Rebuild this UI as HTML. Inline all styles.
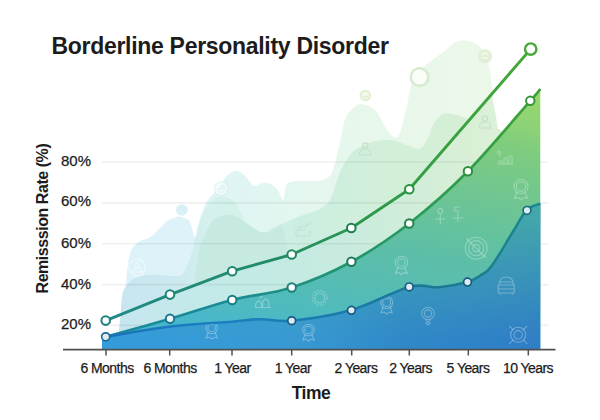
<!DOCTYPE html>
<html><head><meta charset="utf-8">
<style>
html,body{margin:0;padding:0;background:#fff;}
body{width:600px;height:420px;overflow:hidden;position:relative;font-family:"Liberation Sans",sans-serif;}
svg{position:absolute;left:0;top:0;}
</style></head>
<body>
<svg width="600" height="420" viewBox="0 0 600 420">
<defs>
  <linearGradient id="gBlue" x1="100" y1="0" x2="540" y2="0" gradientUnits="userSpaceOnUse">
    <stop offset="0" stop-color="#349cdc"/>
    <stop offset="0.45" stop-color="#3899d2"/>
    <stop offset="0.69" stop-color="#2f88c8"/>
    <stop offset="1" stop-color="#2f7ec6"/>
  </linearGradient>
  <linearGradient id="gBlueV" x1="0" y1="205" x2="0" y2="340" gradientUnits="userSpaceOnUse">
    <stop offset="0" stop-color="#45aaa8" stop-opacity="1"/>
    <stop offset="1" stop-color="#45aaa8" stop-opacity="0"/>
  </linearGradient>
  <linearGradient id="gMid" x1="530" y1="90" x2="471.7" y2="383.25" gradientUnits="userSpaceOnUse">
    <stop offset="0" stop-color="#9ad86c"/>
    <stop offset="0.122" stop-color="#8dd276"/>
    <stop offset="0.202" stop-color="#7ecc7e"/>
    <stop offset="0.397" stop-color="#6ec594"/>
    <stop offset="0.511" stop-color="#63c29e"/>
    <stop offset="0.61" stop-color="#5dbea8"/>
    <stop offset="0.68" stop-color="#5abdad"/>
    <stop offset="0.856" stop-color="#50bbbc"/>
    <stop offset="0.95" stop-color="#4ab8c8"/>
    <stop offset="1" stop-color="#46b6cc"/>
  </linearGradient>
  <linearGradient id="gTop" x1="119" y1="0" x2="499" y2="0" gradientUnits="userSpaceOnUse">
    <stop offset="0" stop-color="#c6e6ef"/>
    <stop offset="0.29" stop-color="#c2eae6"/>
    <stop offset="0.49" stop-color="#c5eae2"/>
    <stop offset="0.75" stop-color="#cfedd9"/>
    <stop offset="0.91" stop-color="#d8efd5"/>
    <stop offset="1" stop-color="#dcf1d8"/>
  </linearGradient>
  <linearGradient id="gBg1" x1="120" y1="0" x2="500" y2="0" gradientUnits="userSpaceOnUse">
    <stop offset="0" stop-color="#dcf2f9"/>
    <stop offset="0.2" stop-color="#ddf3f8"/>
    <stop offset="0.37" stop-color="#e1f6f1"/>
    <stop offset="0.63" stop-color="#e7f7ec"/>
    <stop offset="1" stop-color="#ecf8e9"/>
  </linearGradient>
  <linearGradient id="gBg2" x1="120" y1="0" x2="510" y2="0" gradientUnits="userSpaceOnUse">
    <stop offset="0" stop-color="#c8e6ef"/>
    <stop offset="0.15" stop-color="#cbe9ef"/>
    <stop offset="0.23" stop-color="#d4f1ec"/>
    <stop offset="0.3" stop-color="#d3f0e9"/>
    <stop offset="0.46" stop-color="#cbeee2"/>
    <stop offset="0.67" stop-color="#d2efd9"/>
    <stop offset="1" stop-color="#d8efd5"/>
  </linearGradient>

  <linearGradient id="sTop" x1="105" y1="0" x2="531" y2="0" gradientUnits="userSpaceOnUse">
    <stop offset="0" stop-color="#1f8a8a"/>
    <stop offset="0.37" stop-color="#238a68"/>
    <stop offset="0.65" stop-color="#2e9a48"/>
    <stop offset="1" stop-color="#46a836"/>
  </linearGradient>
  <linearGradient id="sMid" x1="105" y1="0" x2="541" y2="0" gradientUnits="userSpaceOnUse">
    <stop offset="0" stop-color="#1a889a"/>
    <stop offset="0.25" stop-color="#1a8a98"/>
    <stop offset="0.62" stop-color="#249868"/>
    <stop offset="0.9" stop-color="#36a040"/>
    <stop offset="1" stop-color="#3aa23a"/>
  </linearGradient>
  <linearGradient id="sBot" x1="105" y1="0" x2="541" y2="0" gradientUnits="userSpaceOnUse">
    <stop offset="0" stop-color="#1a72b8"/>
    <stop offset="0.25" stop-color="#1a80c0"/>
    <stop offset="0.6" stop-color="#1a7aa8"/>
    <stop offset="0.76" stop-color="#1a7890"/>
    <stop offset="1" stop-color="#1a8a90"/>
  </linearGradient>
</defs>

<!-- background blobs -->
<path fill="url(#gBg1)" d="M118,349 L119.0,330.0 C119.4,325.9 120.3,313.2 121.4,305.7 C122.5,298.2 124.6,291.7 125.7,285.0 C126.8,278.3 126.9,271.4 127.8,265.7 C128.7,260.0 129.2,254.6 131.0,250.7 C132.8,246.8 135.5,244.2 138.6,242.0 C141.7,239.8 146.1,239.8 149.3,237.8 C152.5,235.9 155.0,233.0 157.8,230.3 C160.7,227.6 163.9,223.8 166.4,221.8 C168.9,219.9 170.7,219.5 172.8,218.6 C174.9,217.7 176.7,216.2 179.2,216.4 C181.7,216.6 185.8,218.2 187.8,219.6 C189.8,221.0 189.8,222.1 191.0,225.0 C192.2,227.9 193.9,237.5 195.2,237.0 C196.5,236.5 197.2,227.7 199.0,222.0 C200.8,216.3 203.5,207.8 206.0,203.0 C208.5,198.2 211.7,195.8 214.0,193.0 C216.3,190.2 217.7,189.0 220.0,186.0 C222.3,183.0 224.8,177.5 227.6,175.0 C230.4,172.5 234.0,170.8 237.0,171.0 C240.0,171.2 242.9,173.8 245.4,176.0 C247.9,178.2 250.2,182.8 252.0,184.5 C253.8,186.2 254.1,186.3 256.0,186.0 C257.9,185.7 260.9,183.2 263.3,182.9 C265.7,182.6 268.1,182.8 270.5,184.0 C272.9,185.2 275.8,187.8 277.6,190.0 C279.4,192.2 280.2,195.4 281.2,197.0 C282.2,198.6 282.8,201.3 283.6,199.5 C284.4,197.7 284.6,189.0 286.0,186.0 C287.4,183.0 288.7,182.5 291.9,181.7 C295.1,180.9 300.2,181.2 305.0,181.0 C309.8,180.8 316.3,181.4 320.5,180.5 C324.7,179.6 327.6,178.5 330.0,175.7 C332.4,172.9 333.4,168.2 334.8,163.8 C336.2,159.4 337.1,154.6 338.3,149.5 C339.5,144.4 340.7,138.4 342.0,133.0 C343.3,127.6 343.8,121.4 346.0,117.0 C348.2,112.6 352.1,108.5 355.0,106.4 C357.9,104.3 360.0,103.7 363.4,104.4 C366.8,105.1 371.4,106.1 375.5,110.5 C379.6,114.9 384.0,126.3 387.7,130.7 C391.4,135.1 394.8,140.2 397.8,136.8 C400.8,133.4 403.5,119.6 405.9,110.5 C408.3,101.4 409.1,89.2 412.0,82.0 C414.9,74.8 418.2,72.2 423.6,67.0 C429.0,61.8 439.3,55.1 444.5,51.0 C449.7,46.9 451.5,44.2 455.0,42.5 C458.5,40.8 461.5,40.0 465.4,40.5 C469.3,41.0 474.9,42.8 478.5,45.7 C482.1,48.6 484.8,51.9 487.0,58.0 C489.2,64.1 490.4,73.7 491.6,82.4 C492.8,91.1 493.1,100.4 494.0,110.0 C494.9,119.6 496.5,135.0 497.0,140.0 L497,349 Z"/>
<circle cx="181.8" cy="210" r="5.8" fill="#d9f0f6"/>
<path fill="url(#gBg2)" d="M120,349 L121.0,306.0 C121.3,303.7 121.8,295.7 123.0,292.0 C124.2,288.3 126.2,286.2 128.0,284.0 C129.8,281.8 130.6,280.1 134.0,278.6 C137.4,277.1 143.4,275.5 148.6,275.0 C153.8,274.5 159.8,275.4 165.0,275.5 C170.2,275.6 176.5,276.9 180.0,275.7 C183.5,274.4 184.2,271.4 186.0,268.0 C187.8,264.6 189.3,260.3 191.0,255.0 C192.7,249.7 193.9,243.0 196.0,236.0 C198.1,229.0 200.1,219.3 203.3,213.0 C206.5,206.7 211.7,201.0 215.0,198.3 C218.3,195.6 220.6,196.6 223.3,196.7 C226.0,196.8 228.8,197.6 231.0,199.0 C233.2,200.4 234.6,201.8 236.7,205.0 C238.8,208.2 241.1,214.4 243.3,218.3 C245.5,222.2 246.7,225.9 250.0,228.3 C253.3,230.7 259.4,232.6 263.3,232.5 C267.2,232.4 269.6,229.2 273.3,227.5 C277.0,225.8 281.0,224.3 285.7,222.4 C290.4,220.5 296.2,217.8 301.4,215.8 C306.6,213.8 312.6,212.7 317.0,210.6 C321.4,208.5 324.9,205.9 327.6,203.0 C330.3,200.1 331.4,196.8 333.0,193.0 C334.6,189.2 335.4,184.5 337.0,180.0 C338.6,175.5 340.7,170.2 342.9,166.0 C345.1,161.8 347.6,157.9 350.0,155.0 C352.4,152.1 352.9,150.9 357.0,148.6 C361.1,146.3 368.6,142.8 374.3,141.4 C380.0,140.0 385.7,139.3 391.4,140.0 C397.1,140.7 403.8,144.3 408.6,145.7 C413.4,147.1 416.8,149.9 420.0,148.6 C423.2,147.3 425.7,142.3 428.0,138.0 C430.3,133.7 431.5,127.0 434.0,123.0 C436.5,119.0 439.3,115.3 443.0,114.0 C446.7,112.7 451.8,114.2 456.0,115.0 C460.2,115.8 463.8,118.0 468.0,118.6 C472.2,119.2 476.5,117.4 481.0,118.6 C485.5,119.8 491.2,123.4 495.0,126.0 C498.8,128.6 501.2,131.3 504.0,134.0 C506.8,136.7 510.7,140.7 512.0,142.0 L512,349 Z"/>
<path fill="#c6eae2" d="M190,349 L192.0,300.0 C193.2,291.7 196.8,260.8 199.0,250.0 C201.2,239.2 202.6,240.0 205.0,235.0 C207.4,230.0 210.0,223.3 213.3,220.0 C216.6,216.7 221.1,215.6 225.0,215.0 C228.9,214.4 233.1,215.3 236.7,216.7 C240.3,218.1 242.8,220.8 246.7,223.3 C250.6,225.8 256.1,230.3 260.0,231.7 C263.9,233.1 266.3,233.0 270.0,231.7 C273.7,230.4 280.0,225.3 282.0,224.0 L290,260 L290,349 Z"/>
<path fill="url(#gTop)" d="M119,349 L119,330 L121,314.4 L170,294.6 L232.2,271.2 L291.7,254.5 L351.3,228 L409.3,189.3 L490.5,95 C494,102 497,120 499,140 L499,349 Z"/>
<!-- bg icons -->
<g fill="none">
  <circle cx="419.6" cy="77.1" r="8.8" stroke="#d6ebcf" stroke-width="2.6"/>
  <circle cx="419.6" cy="77.1" r="7.2" fill="#fbfdf9"/>
  <circle cx="485" cy="56.2" r="7" fill="#e2efd6"/>
  <path d="M481.5,55 q3.5,-4 7,0 M482,58 h6" stroke="#f4f9ef" stroke-width="1.4"/>
  <circle cx="365.3" cy="95.5" r="5.8" fill="#e3efd2"/>
  <circle cx="365.3" cy="95.5" r="3.6" fill="#f2f8ea"/>
  <path d="M362.5,96 q2.8,3 5.6,0" stroke="#d8e8c6" stroke-width="1"/>
  <circle cx="221" cy="188.6" r="6.6" stroke="#d2ece4" stroke-width="0.8"/>
  <circle cx="221" cy="188.6" r="5.4" stroke="#f3fbf8" stroke-width="1.8"/>
  <path d="M218,189.5 q3,3 6,0 M221,184.8 v3" stroke="#f3fbf8" stroke-width="1.4"/>
  <circle cx="137" cy="267.5" r="8.3" stroke="#eef8fb" stroke-width="1.4"/>
  <circle cx="137" cy="265" r="2.3" stroke="#eef8fb" stroke-width="1.1"/>
  <path d="M132.5,272 q0,-4 4.5,-4 q4.5,0 4.5,4 z" stroke="#eef8fb" stroke-width="1.1"/>
  <g stroke="#c4e0cc" stroke-width="1.1">
    <circle cx="365.3" cy="145.5" r="2.6"/>
    <path d="M359.5,155 q0,-6 5.8,-6 q5.8,0 5.8,6 z"/>
    <circle cx="485" cy="118.5" r="2.6"/>
    <path d="M479.2,128 q0,-6 5.8,-6 q5.8,0 5.8,6 z"/>
  </g>
  <g stroke="#bfe2d6" stroke-width="1.1">
    <path d="M296,236 h14 v-6 M296,236 v-6 h10 M299,230 v-3 h6 l3,-3 M308,225 l3,-2"/>
  </g>
</g>

<!-- gridlines -->
<g stroke="#000" stroke-opacity="0.06" stroke-width="1.6">
  <line x1="102" y1="162" x2="548" y2="162"/>
  <line x1="102" y1="202.9" x2="548" y2="202.9"/>
  <line x1="102" y1="243.7" x2="548" y2="243.7"/>
  <line x1="102" y1="284.6" x2="548" y2="284.6"/>
  <line x1="102" y1="325.4" x2="548" y2="325.4"/>
</g>

<!-- middle area -->
<path fill="url(#gMid)" d="M102,339 L105.7,336.8 C116.4,333.8 148.9,324.9 170.0,318.8 C191.1,312.7 211.9,305.2 232.2,300.0 C252.5,294.8 271.8,293.9 291.7,287.5 C311.6,281.1 331.8,272.5 351.4,261.8 C371.0,251.1 389.8,238.6 409.2,223.5 C428.6,208.4 447.7,191.8 467.9,171.3 C488.1,150.9 518.2,114.5 530.3,100.8 C542.4,87.1 538.6,91.0 540.3,89.0 L540.3,349.5 L102,349.5 Z"/>

<!-- bottom area -->
<path fill="url(#gBlue)" d="M102,339 L105.7,336.8 C116.2,335.1 147.9,329.2 169.0,326.7 C190.1,324.2 216.8,322.9 232.0,321.7 C247.2,320.4 250.1,319.4 260.0,319.2 C269.9,319.0 276.4,322.2 291.7,320.7 C306.9,319.2 331.9,315.6 351.5,310.0 C371.1,304.4 394.6,290.7 409.2,286.9 C423.8,283.1 429.3,288.0 439.0,287.2 C448.7,286.4 460.6,284.1 467.5,282.1 C474.4,280.1 476.5,277.9 480.5,275.3 C484.5,272.7 486.0,273.6 491.4,266.4 C496.8,259.2 506.9,241.4 512.8,232.0 C518.7,222.6 522.2,214.7 526.8,210.0 C531.4,205.3 538.0,204.7 540.3,203.6 L540.3,349.5 L102,349.5 Z"/>
<path fill="url(#gBlueV)" d="M102,339 L105.7,336.8 C116.2,335.1 147.9,329.2 169.0,326.7 C190.1,324.2 216.8,322.9 232.0,321.7 C247.2,320.4 250.1,319.4 260.0,319.2 C269.9,319.0 276.4,322.2 291.7,320.7 C306.9,319.2 331.9,315.6 351.5,310.0 C371.1,304.4 394.6,290.7 409.2,286.9 C423.8,283.1 429.3,288.0 439.0,287.2 C448.7,286.4 460.6,284.1 467.5,282.1 C474.4,280.1 476.5,277.9 480.5,275.3 C484.5,272.7 486.0,273.6 491.4,266.4 C496.8,259.2 506.9,241.4 512.8,232.0 C518.7,222.6 522.2,214.7 526.8,210.0 C531.4,205.3 538.0,204.7 540.3,203.6 L540.3,349.5 L102,349.5 Z"/>

<!-- fg icons -->
<g fill="none" stroke="#ffffff" stroke-opacity="0.3" stroke-width="1.1">
  <!-- medal 211,330 -->
  <g transform="translate(211.7,328)"><circle r="5.8"/><circle r="3.8"/><path d="M-3.5,4.5 L-5.5,10 L-2.5,9 L0,11 L2.5,9 L5.5,10 L3.5,4.5"/></g>
  <g transform="translate(386.7,302.5)"><circle r="6"/><circle r="4"/><path d="M-3.5,4.5 L-5.5,10.5 L-2.5,9.5 L0,11.5 L2.5,9.5 L5.5,10.5 L3.5,4.5"/></g>
  <g transform="translate(401.4,262.5)"><circle r="6.3"/><circle r="3.8"/><path d="M-3.5,5 L-6,11 L-3,10 L0,12 L3,10 L6,11 L3.5,5"/></g>
  <g transform="translate(521,186.5)"><circle r="7"/><circle r="4.6"/><path d="M-4,5.5 L-6.5,12 L-3,11 L0,13 L3,11 L6.5,12 L4,5.5"/></g>
  <g transform="translate(308.5,330)"><circle r="5.8"/><circle r="3.8"/><path d="M-3.5,4.5 L-5.5,10 L-2.5,9 L0,11 L2.5,9 L5.5,10 L3.5,4.5"/></g>
  <!-- ring -->
  <g transform="translate(319.7,298)"><circle r="7.4" stroke-dasharray="2 1.2"/><circle r="5"/></g>
  <!-- pin ring -->
  <g transform="translate(428,313.5)"><circle r="6.3"/><circle r="3.6"/><path d="M-2.5,6 L0,9 L2.5,6 M-2.5,9 l2.5,2.5 l2.5,-2.5"/></g>
  <!-- target w/ line -->
  <g transform="translate(476.2,248.2)"><circle r="11"/><circle r="7.6"/><circle r="3.6"/><path d="M-10,-10 L10,10"/></g>
  <!-- target w/ X -->
  <g transform="translate(518.2,334.8)"><circle r="7.5"/><circle r="4.2"/><path d="M-9,-9 L-5,-5 M9,-9 L5,-5 M-9,9 L-5,5 M9,9 L5,5"/></g>
  <!-- bus/helmet -->
  <g transform="translate(506.2,286)"><path d="M-7,-1 q0,-8 7,-8 q7,0 7,8 M-8,-1 h16 v8 h-16 z M-8,3 h16 M-6,7 v2 M6,7 v2 M-7,-4 h14"/></g>
  <!-- bars -->
  <g transform="translate(505,157)"><path d="M-7,7 h15 M-6,7 v-3 h3 v3 M-1,7 v-6 h3 v6 M4,7 v-8 h3 v8 M-6,-6 a1.5,1.5 0 1,0 0.1,0 M-5,-3 v3"/></g>
  <g transform="translate(262.7,302.5)"><path d="M-8,5 h16 M-7,5 v-4 l3,-3 l3,3 v4 M0,5 v-6 l3,-3 l3,3 v6 M-3,-4 l3,-3"/></g>
  <!-- plus persons -->
  <g transform="translate(440.3,216)"><circle cx="0" cy="-5" r="2.4"/><path d="M-5,3 h10 M0,-2 v10"/></g>
  <g transform="translate(457.8,215)"><path d="M-3,-8 h5 M-3,-8 v4 h5 M-5,3 h10 M0,-3 v10"/></g>
</g>

<!-- lines -->
<polyline fill="none" stroke="url(#sTop)" stroke-width="2.9" stroke-linejoin="round" points="105.7,320.6 170,294.6 232.2,271.2 291.7,254.5 351.3,228 409.3,189.3 530.7,49.1"/>
<path fill="none" stroke="url(#sMid)" stroke-width="2.7" d="M105.7,336.8 C116.4,333.8 148.9,324.9 170.0,318.8 C191.1,312.7 211.9,305.2 232.2,300.0 C252.5,294.8 271.8,293.9 291.7,287.5 C311.6,281.1 331.8,272.5 351.4,261.8 C371.0,251.1 389.8,238.6 409.2,223.5 C428.6,208.4 447.7,191.8 467.9,171.3 C488.1,150.9 518.2,114.5 530.3,100.8 C542.4,87.1 538.6,91.0 540.3,89.0"/>
<path fill="none" stroke="url(#sBot)" stroke-width="2.6" d="M105.7,336.8 C116.2,335.1 147.9,329.2 169.0,326.7 C190.1,324.2 216.8,322.9 232.0,321.7 C247.2,320.4 250.1,319.4 260.0,319.2 C269.9,319.0 276.4,322.2 291.7,320.7 C306.9,319.2 331.9,315.6 351.5,310.0 C371.1,304.4 394.6,290.7 409.2,286.9 C423.8,283.1 429.3,288.0 439.0,287.2 C448.7,286.4 460.6,284.1 467.5,282.1 C474.4,280.1 476.5,277.9 480.5,275.3 C484.5,272.7 486.0,273.6 491.4,266.4 C496.8,259.2 506.9,241.4 512.8,232.0 C518.7,222.6 522.2,214.7 526.8,210.0 C531.4,205.3 538.0,204.7 540.3,203.6"/>

<!-- markers -->
<g stroke-width="2">
  <circle cx="105.7" cy="320.6" r="4.3" fill="#fff" stroke="#1e8080"/>
  <circle cx="170" cy="294.6" r="4.3" fill="#fff" stroke="#1e8478"/>
  <circle cx="232.2" cy="271.2" r="4.3" fill="#fff" stroke="#1f8470"/>
  <circle cx="291.7" cy="254.5" r="4.3" fill="#fff" stroke="#218866"/>
  <circle cx="351.3" cy="228" r="4.3" fill="#fff" stroke="#1e7e4e"/>
  <circle cx="409.3" cy="189.3" r="4.3" fill="#fff" stroke="#28903e"/>
  <circle cx="530.7" cy="49.1" r="5.7" fill="#fff" stroke="#48a838" stroke-width="2.4"/>

  <circle cx="170" cy="318.8" r="4.2" fill="#eef4f6" stroke="#1a7890"/>
  <circle cx="232.2" cy="300" r="4.2" fill="#fff" stroke="#1a7c84"/>
  <circle cx="291.7" cy="287.5" r="4.2" fill="#fff" stroke="#1c7e78"/>
  <circle cx="351.4" cy="261.8" r="4.2" fill="#fff" stroke="#1e7858"/>
  <circle cx="409.2" cy="223.5" r="4.2" fill="#fff" stroke="#22844a"/>
  <circle cx="467.9" cy="171.3" r="4.2" fill="#fff" stroke="#2a903c"/>
  <circle cx="530.3" cy="100.8" r="4.2" fill="#fff" stroke="#34983a"/>
</g>
<g stroke-width="1.7">
  <circle cx="105.7" cy="336.8" r="4" fill="#e4ecf1" stroke="#1f6a96"/>
  <circle cx="291.7" cy="320.7" r="3.9" fill="#e0ecf4" stroke="#1a5a80"/>
  <circle cx="351.4" cy="310.3" r="3.9" fill="#e0ecf4" stroke="#1a5a80"/>
  <circle cx="409.2" cy="286.9" r="3.9" fill="#e0ecf4" stroke="#1a5a80"/>
  <circle cx="467.5" cy="282.1" r="3.9" fill="#e0ecf4" stroke="#1a5a80"/>
  <circle cx="527" cy="210.4" r="3.9" fill="#e0ecf4" stroke="#1a6a80"/>
</g>

<!-- axis -->
<line x1="63" y1="349.6" x2="555.5" y2="349.6" stroke="#505050" stroke-width="1.7"/>
<g stroke="#505050" stroke-width="1.5">
  <line x1="106" y1="349.5" x2="106" y2="355.5"/>
  <line x1="169.7" y1="349.5" x2="169.7" y2="355.5"/>
  <line x1="232" y1="349.5" x2="232" y2="355.5"/>
  <line x1="291.7" y1="349.5" x2="291.7" y2="355.5"/>
  <line x1="351.7" y1="349.5" x2="351.7" y2="355.5"/>
  <line x1="409.3" y1="349.5" x2="409.3" y2="355.5"/>
  <line x1="468.3" y1="349.5" x2="468.3" y2="355.5"/>
  <line x1="528.3" y1="349.5" x2="528.3" y2="355.5"/>
</g>

<!-- text -->
<g font-family="Liberation Sans, sans-serif" fill="#1c1c1c">
  <text x="51.5" y="54" font-size="23" font-weight="bold" letter-spacing="-0.3">Borderline Personality Disorder</text>
  <g font-size="15" stroke="#1c1c1c" stroke-width="0.25">
    <text x="61" y="165.8">80%</text>
    <text x="61" y="206.4">60%</text>
    <text x="61" y="247.5">60%</text>
    <text x="61" y="288.7">40%</text>
    <text x="61" y="329.2">20%</text>
  </g>
  <g font-size="14" letter-spacing="-0.55" text-anchor="middle" stroke="#1c1c1c" stroke-width="0.25">
    <text x="107" y="373">6 Months</text>
    <text x="170" y="373">6 Months</text>
    <text x="232.4" y="373">1 Year</text>
    <text x="293" y="373">1 Year</text>
    <text x="356" y="373">2 Years</text>
    <text x="410.6" y="373">2 Years</text>
    <text x="468" y="373">5 Years</text>
    <text x="528" y="373">10 Years</text>
  </g>
  <text x="311" y="399.3" font-size="17.5" font-weight="bold" letter-spacing="-0.5" text-anchor="middle">Time</text>
  <text transform="translate(47.9,218.6) rotate(-90)" font-size="16" font-weight="bold" letter-spacing="-0.45" text-anchor="middle">Remisssion Rate (%)</text>
</g>
</svg>
</body></html>
